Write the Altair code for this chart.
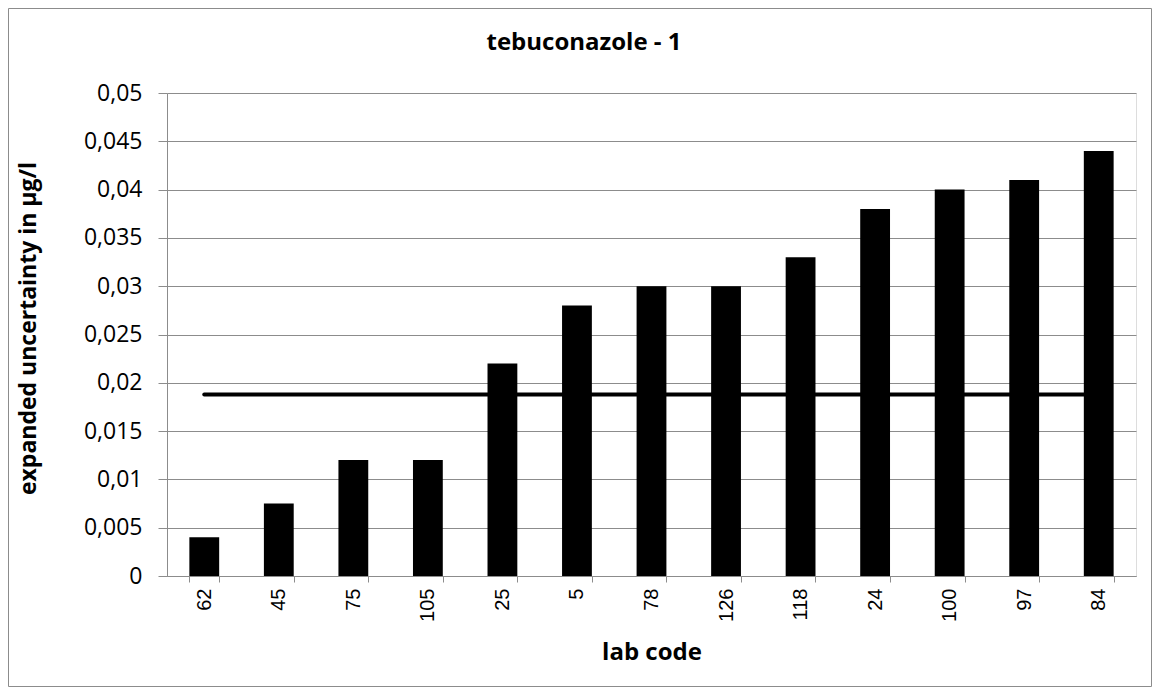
import altair as alt
import pandas as pd

labs = ["62", "45", "75", "105", "25", "5", "78", "126", "118", "24", "100", "97", "84"]
values = [0.004, 0.0075, 0.012, 0.012, 0.022, 0.028, 0.030, 0.030, 0.033, 0.038, 0.040, 0.041, 0.044]
ref_value = 0.0188
y_ticks = [0, 0.005, 0.01, 0.015, 0.02, 0.025, 0.03, 0.035, 0.04, 0.045, 0.05]
chart_title = "tebuconazole - 1"

df = pd.DataFrame({"lab": labs, "u": values})
line_df = pd.DataFrame({"lab": [labs[0], labs[-1]], "u": [ref_value, ref_value]})
frame_df = pd.DataFrame({"k": [0]})
title_df = pd.DataFrame({"t": [chart_title]})

W, H = 969, 483
GRID = "#8c8c8c"

x_scale = alt.Scale(paddingInner=0.6, paddingOuter=0.3)
y_scale = alt.Scale(domain=[0, 0.05], nice=False)

x_axis = alt.Axis(
    title="lab code",
    labelAngle=-90,
    labelFont="Liberation Sans",
    labelFontSize=20,
    labelColor="black",
    labelPadding=6,
    tickBand="extent",
    tickSize=6,
    tickColor=GRID,
    domainColor=GRID,
    grid=False,
    titleFont="Open Sans",
    titleFontSize=24,
    titleFontWeight="bold",
    titleColor="black",
    titleX=W / 2,
    titleY=76,
    titleBaseline="middle",
    titleAnchor="middle",
)
y_axis = alt.Axis(
    title="expanded uncertainty in µg/l",
    values=y_ticks,
    labelExpr="replace(format(datum.value, '.3~f'), '.', ',')",
    labelFont="Open Sans",
    labelFontSize=23,
    labelColor="black",
    labelPadding=16,
    tickSize=9,
    tickColor=GRID,
    domainColor=GRID,
    gridColor=GRID,
    titleFont="Open Sans",
    titleFontSize=23,
    titleFontWeight="bold",
    titleColor="black",
    titleAngle=-90,
    titleX=-139,
    titleY=235,
    titleBaseline="middle",
    titleAnchor="middle",
)

bars = alt.Chart(df).mark_bar(color="black").encode(
    x=alt.X("lab:N", sort=labs, scale=x_scale, axis=x_axis),
    y=alt.Y("u:Q", scale=y_scale, axis=y_axis),
)

line = alt.Chart(line_df).mark_line(color="black", strokeWidth=4, strokeCap="round").encode(
    x=alt.X("lab:N", sort=labs),
    y=alt.Y("u:Q"),
)

frame = alt.Chart(frame_df).mark_rect(filled=False, stroke="#8c8c8c", strokeWidth=1).encode(
    x=alt.value(-158.5),
    x2=alt.value(984.5),
    y=alt.value(-84.5),
    y2=alt.value(593.5),
)

title = alt.Chart(title_df).mark_text(
    font="Open Sans", fontSize=24, fontWeight="bold", color="black",
    align="center", baseline="middle",
).encode(
    text="t:N",
    x=alt.value(417),
    y=alt.value(-50),
)

chart = alt.layer(bars, line, frame, title).properties(
    width=W,
    height=H,
    autosize=alt.AutoSizeParams(type="none"),
    padding={"left": 159, "top": 85, "right": 16, "bottom": 111},
).configure_view(strokeWidth=0).configure(background="white")

chart.save("out.html", embed_options={"renderer": "svg", "actions": False})
